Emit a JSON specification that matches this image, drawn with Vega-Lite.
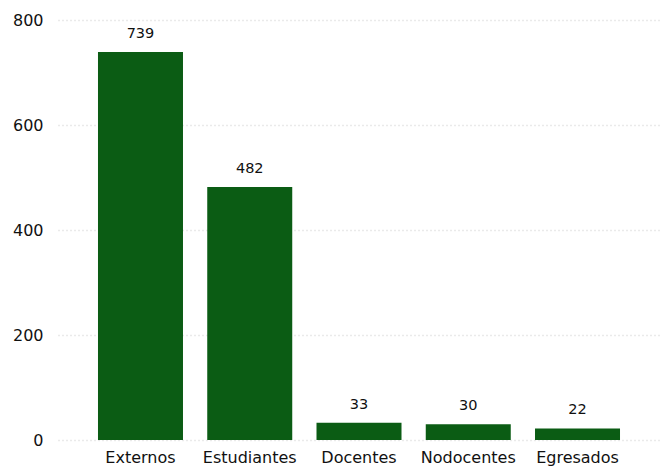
{
  "$schema": "https://vega.github.io/schema/vega-lite/v6.json",
  "autosize": "none",
  "width": 602,
  "height": 420,
  "padding": {"left": 58, "top": 20, "right": 1, "bottom": 26},
  "background": "white",
  "config": {"view": {"stroke": null}, "font": "DejaVu Sans"},
  "data": {"values": [
    {"grupo": "Externos", "n": 739},
    {"grupo": "Estudiantes", "n": 482},
    {"grupo": "Docentes", "n": 33},
    {"grupo": "Nodocentes", "n": 30},
    {"grupo": "Egresados", "n": 22}
  ]},
  "encoding": {
    "x": {"field": "grupo", "type": "nominal", "sort": null,
      "scale": {"paddingInner": 0.222, "paddingOuter": 0.366},
      "axis": {"title": null, "labelAngle": 0, "domain": false, "ticks": false, "labelFontSize": 16, "labelColor": "#111", "labelPadding": 9}},
    "y": {"field": "n", "type": "quantitative",
      "scale": {"domain": [0, 800], "nice": false},
      "axis": {"title": null, "values": [0, 200, 400, 600, 800], "domain": false, "ticks": false, "labelFontSize": 16, "labelColor": "#111", "labelPadding": 15, "gridColor": "#d6d6d6", "gridDash": [1, 3], "gridWidth": 1.5}}
  },
  "layer": [
    {"mark": {"type": "bar", "color": "#0b5c14"}},
    {"mark": {"type": "text", "baseline": "bottom", "dy": -11, "fontSize": 14.5, "color": "#111"},
     "encoding": {"text": {"field": "n", "type": "quantitative"}}}
  ]
}
